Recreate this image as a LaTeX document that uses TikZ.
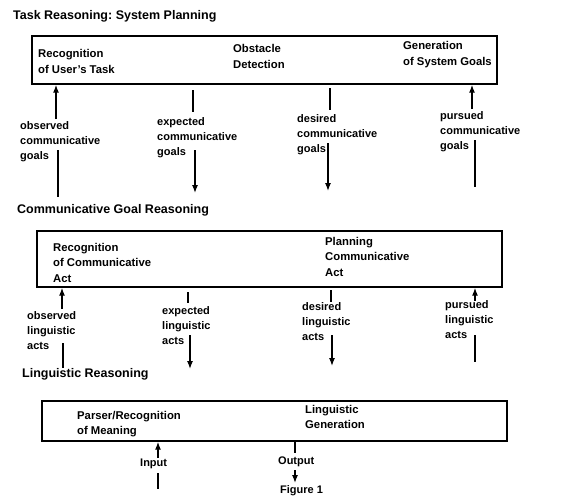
\documentclass[tikz,border=0pt]{standalone}
\usepackage{fontspec}
\setmainfont{Liberation Sans}
\usetikzlibrary{arrows.meta,positioning}
\frenchspacing

\begin{document}
\begin{tikzpicture}[x=1pt, y=-1pt, >={Latex[length=8pt,width=6pt]}]

\tikzset{
  box/.style={draw, line width=1.4pt, minimum width=465pt, inner sep=0pt},
  boxtext/.style={anchor=north west, align=left, inner sep=0pt,
    font=\bfseries\fontsize{11.3}{16.5}\selectfont},
  lbl/.style={anchor=north west, align=left, inner sep=0pt,
    font=\bfseries\fontsize{11}{15}\selectfont},
  heading/.style={anchor=west, inner sep=0pt,
    font=\bfseries\fontsize{12.5}{15}\selectfont},
  arrow/.style={->, line width=1.3pt},
  line/.style={line width=1.3pt}
}

\useasboundingbox (0,0) rectangle (574,499);

% =========================================================
% Level 1: task reasoning
% =========================================================
\node[heading] (title1) at (13,16) {Task Reasoning: System Planning};
\node[box, minimum height=48pt] (taskbox) at (264.5,60) {};

\node[boxtext] (usertask) at (38,49) {Recognition\\of User's Task};
\node[boxtext] (obstacle) at (233,44) {Obstacle\\Detection};
\node[boxtext] (sysgoals) at (403,41) {Generation\\of System Goals};

\node[lbl] (obsgoals) at (20,121) {observed\\communicative\\goals};
\node[lbl] (expgoals) at (157,117) {expected\\communicative\\goals};
\node[lbl] (desgoals) at (297,114) {desired\\communicative\\goals};
\node[lbl] (purgoals) at (440,111) {pursued\\communicative\\goals};

\coordinate (og1) at (56,119);  \coordinate (og2) at (58,150);  \coordinate (og3) at (58,197);
\coordinate (eg1) at (193,90);  \coordinate (eg2) at (193,112); \coordinate (eg3) at (195,150);
\coordinate (eg4) at (195,193);
\coordinate (dg1) at (330,88);  \coordinate (dg2) at (330,110); \coordinate (dg3) at (328,143);
\coordinate (dg4) at (328,191);
\coordinate (pg1) at (472,109); \coordinate (pg2) at (475,140); \coordinate (pg3) at (475,187);

\draw[arrow] (og1) -- (og1 |- taskbox.south);
\draw[line] (og2) -- (og3);
\draw[line] (eg1) -- (eg2);
\draw[arrow] (eg3) -- (eg4);
\draw[line] (dg1) -- (dg2);
\draw[arrow] (dg3) -- (dg4);
\draw[arrow] (pg1) -- (pg1 |- taskbox.south);
\draw[line] (pg2) -- (pg3);

% =========================================================
% Level 2: communicative goal reasoning
% =========================================================
\node[heading] (title2) at (17,210) {Communicative Goal Reasoning};
\node[box, minimum height=56pt] (commbox) at (269.5,259) {};

\node[boxtext, font=\bfseries\fontsize{11.3}{15.5}\selectfont] (recact) at (53,243)
  {Recognition\\of Communicative\\Act};
\node[boxtext, font=\bfseries\fontsize{11.3}{15.5}\selectfont] (planact) at (325,237)
  {Planning\\Communicative\\Act};

\node[lbl] (obsacts) at (27,311) {observed\\linguistic\\acts};
\node[lbl] (expacts) at (162,306) {expected\\linguistic\\acts};
\node[lbl] (desacts) at (302,302) {desired\\linguistic\\acts};
\node[lbl] (puracts) at (445,300) {pursued\\linguistic\\acts};

\coordinate (oa1) at (62,309);  \coordinate (oa2) at (63,343);  \coordinate (oa3) at (63,368);
\coordinate (ea1) at (188,292); \coordinate (ea2) at (188,303); \coordinate (ea3) at (190,335);
\coordinate (ea4) at (190,369);
\coordinate (da1) at (331,290); \coordinate (da2) at (331,302); \coordinate (da3) at (332,335);
\coordinate (da4) at (332,366);
\coordinate (pa1) at (475,301); \coordinate (pa2) at (475,335); \coordinate (pa3) at (475,362);

\draw[arrow] (oa1) -- (oa1 |- commbox.south);
\draw[line] (oa2) -- (oa3);
\draw[line] (ea1) -- (ea2);
\draw[arrow] (ea3) -- (ea4);
\draw[line] (da1) -- (da2);
\draw[arrow] (da3) -- (da4);
\draw[arrow] (pa1) -- (pa1 |- commbox.south);
\draw[line] (pa2) -- (pa3);

% =========================================================
% Level 3: linguistic reasoning
% =========================================================
\node[heading] (title3) at (22,374) {Linguistic Reasoning};
\node[box, minimum height=40pt] (lingbox) at (274.5,421) {};

\node[boxtext, font=\bfseries\fontsize{11.3}{15}\selectfont] (parser) at (77,411)
  {Parser/Recognition\\of Meaning};
\node[boxtext, font=\bfseries\fontsize{11.3}{15}\selectfont] (lingen) at (305,405)
  {Linguistic\\Generation};

\node[lbl] (input) at (140,459) {Input};
\node[lbl] (output) at (278,457) {Output};
\node[lbl] (figure) at (280,485) {Figure 1};

\coordinate (in1) at (158,458); \coordinate (in2) at (158,473); \coordinate (in3) at (158,489);
\coordinate (out1) at (295,453); \coordinate (out2) at (295,470); \coordinate (out3) at (295,483);

\draw[arrow] (in1) -- (in1 |- lingbox.south);
\draw[line] (in2) -- (in3);
\draw[line] (lingbox.south -| out1) -- (out1);
\draw[arrow] (out2) -- (out3);

\end{tikzpicture}
\end{document}
